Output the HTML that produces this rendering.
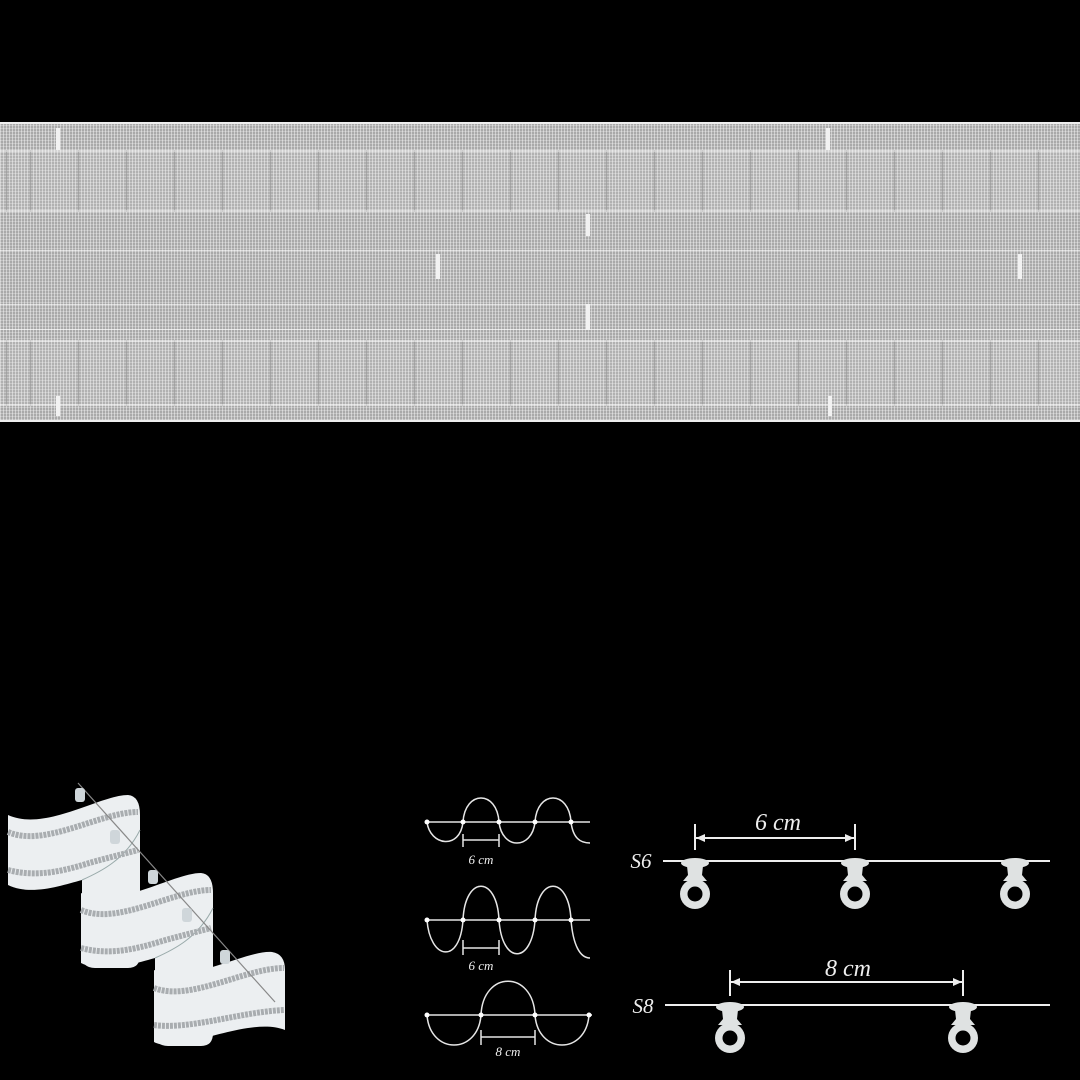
<!DOCTYPE html>
<html><head><meta charset="utf-8"><style>
html,body{margin:0;padding:0;background:#000;width:1080px;height:1080px;overflow:hidden}
.tape{position:absolute;left:0;top:122px;width:1080px;height:300px;background:#bcbcbc;
background-image:repeating-linear-gradient(0deg,rgba(255,255,255,.28) 0 1px,rgba(0,0,0,0) 1px 3px),repeating-linear-gradient(90deg,rgba(255,255,255,.28) 0 1px,rgba(0,0,0,.1) 1px 3px);
border-top:2px solid #eee;border-bottom:2px solid #eee;box-sizing:border-box}
.pk{position:absolute;left:0;width:1080px;background:rgba(255,255,255,.1);
background-image:repeating-linear-gradient(90deg,rgba(70,70,70,.35) 0 1px,rgba(0,0,0,0) 1px 48px);background-position:30px 0}
.ln{position:absolute;left:0;width:1080px;height:1px;background:rgba(255,255,255,.6)}
.tk{position:absolute;width:4px;background:#f2f2f2}
</style></head><body>
<div class="tape">
 <div class="pk" style="top:26px;height:58px;border-top:2px solid rgba(255,255,255,.45);border-bottom:2px solid rgba(255,255,255,.45)"></div>
 <div class="pk" style="top:216px;height:62px;border-top:2px solid rgba(255,255,255,.45);border-bottom:2px solid rgba(255,255,255,.45)"></div>
 <div class="ln" style="top:180px"></div>
 <div class="ln" style="top:205px"></div>
 <div class="ln" style="top:126px"></div>
 <div class="tk" style="left:56px;top:4px;height:22px"></div>
 <div class="tk" style="left:826px;top:4px;height:22px"></div>
 <div class="tk" style="left:586px;top:90px;height:22px"></div>
 <div class="tk" style="left:436px;top:130px;height:25px"></div>
 <div class="tk" style="left:1018px;top:130px;height:25px"></div>
 <div class="tk" style="left:586px;top:180px;height:26px"></div>
 <div class="tk" style="left:56px;top:272px;height:20px"></div>
 <div class="tk" style="left:828px;top:272px;height:20px"></div>
</div>
<svg width="1080" height="1080" style="position:absolute;left:0;top:0" xmlns="http://www.w3.org/2000/svg">
<defs>
<g id="hook" fill="#dfe2e2">
 <ellipse cx="0" cy="2" rx="14" ry="5"/>
 <path d="M-8,5 L8,5 L7,14 L12,20 L-12,20 L-7,14 Z"/>
 <circle cx="0" cy="33" r="15"/>
 <circle cx="0" cy="33" r="7.5" fill="#000"/>
</g>
<g id="unit">
 <path d="M8,815 C45,832 100,795 128,795 Q140,796 140,815 L140,955 Q140,968 128,968 L95,968 Q82,968 82,955 L82,880 C60,886 30,896 8,885 Z" fill="#eceff1"/>
 <path d="M82,880 C100,872 125,860 140,830" stroke="#9aa" stroke-width="1" fill="none"/>
 <path d="M8,832 C45,848 100,812 138,812" stroke="#a9adb0" stroke-width="6" fill="none" stroke-dasharray="3 1"/>
 <path d="M8,870 C45,880 80,865 100,860 L138,850" stroke="#a9adb0" stroke-width="6" fill="none" stroke-dasharray="3 1"/>
</g>
</defs>
<use href="#unit"/>
<use href="#unit" transform="translate(73,78)"/>
<path d="M154,970 C190,985 245,950 272,952 Q285,954 285,970 L285,1030 C260,1020 220,1035 195,1040 C180,1043 165,1048 154,1042 Z" fill="#eceff1"/>
<path d="M154,988 C190,1002 245,968 284,968" stroke="#a9adb0" stroke-width="6" fill="none" stroke-dasharray="3 1"/>
<path d="M154,1025 C190,1030 240,1012 284,1010" stroke="#a9adb0" stroke-width="6" fill="none" stroke-dasharray="3 1"/>
<line x1="78" y1="783" x2="275" y2="1002" stroke="#888" stroke-width="1.2"/>
<g fill="#cfd6da"><rect x="75" y="788" width="10" height="14" rx="3"/><rect x="148" y="870" width="10" height="14" rx="3"/><rect x="220" y="950" width="10" height="14" rx="3"/><rect x="110" y="830" width="10" height="14" rx="3"/><rect x="182" y="908" width="10" height="14" rx="3"/></g>

<g stroke="#e6e6e6" stroke-width="1.5" fill="none">
 <line x1="425" y1="822" x2="590" y2="822"/>
 <path d="M427,822 C430,846 460,850 463,822 C465,790 497,790 499,822 C502,850 532,850 535,822 C537,790 569,790 571,822 C573,838 580,843 590,843"/>
 <line x1="463" y1="840" x2="499" y2="840"/><line x1="463" y1="834" x2="463" y2="847"/><line x1="499" y1="834" x2="499" y2="847"/>
 <line x1="425" y1="920" x2="590" y2="920"/>
 <path d="M427,920 C430,960 460,965 463,920 C465,875 497,875 499,920 C502,965 532,965 535,920 C537,875 569,875 571,920 C573,945 580,958 590,958"/>
 <line x1="463" y1="948" x2="499" y2="948"/><line x1="463" y1="940" x2="463" y2="955"/><line x1="499" y1="940" x2="499" y2="955"/>
 <line x1="425" y1="1015" x2="592" y2="1015"/>
 <path d="M427,1015 C430,1055 478,1055 481,1015 C483,970 533,970 535,1015 C538,1055 586,1055 589,1015"/>
 <line x1="481" y1="1037" x2="535" y2="1037"/><line x1="481" y1="1030" x2="481" y2="1045"/><line x1="535" y1="1030" x2="535" y2="1045"/>
</g>
<g fill="#fff"><circle cx="427" cy="822" r="2.5"/><circle cx="463" cy="822" r="2.5"/><circle cx="499" cy="822" r="2.5"/><circle cx="535" cy="822" r="2.5"/><circle cx="571" cy="822" r="2.5"/>
<circle cx="427" cy="920" r="2.5"/><circle cx="463" cy="920" r="2.5"/><circle cx="499" cy="920" r="2.5"/><circle cx="535" cy="920" r="2.5"/><circle cx="571" cy="920" r="2.5"/>
<circle cx="427" cy="1015" r="2.5"/><circle cx="481" cy="1015" r="2.5"/><circle cx="535" cy="1015" r="2.5"/><circle cx="589" cy="1015" r="2.5"/></g>
<g font-family="Liberation Serif, serif" font-style="italic" fill="#eee" text-anchor="middle">
 <text x="481" y="864" font-size="13">6 cm</text>
 <text x="481" y="970" font-size="13">6 cm</text>
 <text x="508" y="1056" font-size="13">8 cm</text>
 <text x="778" y="830" font-size="24">6 cm</text>
 <text x="848" y="976" font-size="24">8 cm</text>
 <text x="641" y="868" font-size="21">S6</text>
 <text x="643" y="1013" font-size="21">S8</text>
</g>
<g stroke="#eee" stroke-width="2" fill="none">
 <line x1="663" y1="861" x2="1050" y2="861"/>
 <line x1="665" y1="1005" x2="1050" y2="1005"/>
 <line x1="696" y1="838" x2="854" y2="838"/><line x1="695" y1="824" x2="695" y2="850"/><line x1="855" y1="824" x2="855" y2="850"/>
 <line x1="731" y1="982" x2="962" y2="982"/><line x1="730" y1="970" x2="730" y2="996"/><line x1="963" y1="970" x2="963" y2="996"/>
</g>
<g fill="#eee"><path d="M696,838 l9,-4 v8 z"/><path d="M854,838 l-9,-4 v8 z"/><path d="M731,982 l9,-4 v8 z"/><path d="M962,982 l-9,-4 v8 z"/></g>
<use href="#hook" x="695" y="861"/><use href="#hook" x="855" y="861"/><use href="#hook" x="1015" y="861"/>
<use href="#hook" x="730" y="1005"/><use href="#hook" x="963" y="1005"/>
</svg>
</body></html>
